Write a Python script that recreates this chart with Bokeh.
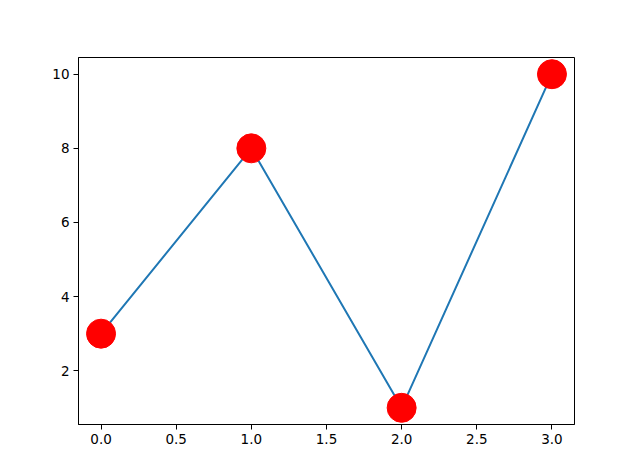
from bokeh.plotting import figure
from bokeh.models import Range1d, FixedTicker, CustomJSTickFormatter
from bokeh.embed import file_html
from bokeh.resources import INLINE

xs = [0, 1, 2, 3]
ys = [3, 8, 1, 10]
x_ticks = [0.0, 0.5, 1.0, 1.5, 2.0, 2.5, 3.0]
y_ticks = [2, 4, 6, 8, 10]

p = figure(width=634, height=466, output_backend="svg", toolbar_location=None,
           x_range=Range1d(-0.15, 3.15), y_range=Range1d(0.55, 10.45),
           min_border_left=78, min_border_right=60, min_border_top=57, min_border_bottom=42)
p.grid.visible = False
p.outline_line_color = "black"
p.outline_line_width = 1
p.background_fill_color = "white"
p.border_fill_color = "white"

p.line(xs, ys, line_color="#1f77b4", line_width=2)
p.scatter(xs, ys, size=29, fill_color="red", line_color="red", marker="circle")

p.xaxis.ticker = FixedTicker(ticks=x_ticks)
p.yaxis.ticker = FixedTicker(ticks=y_ticks)
p.xaxis.formatter = CustomJSTickFormatter(code="return tick.toFixed(1);")
p.yaxis.formatter = CustomJSTickFormatter(code="return tick.toFixed(0);")
for ax in (p.xaxis, p.yaxis):
    ax.major_label_text_font = "DejaVu Sans"
    ax.major_label_text_font_size = "13.5px"
    ax.major_label_text_color = "black"
    ax.axis_line_color = "black"
    ax.major_tick_line_color = "black"
    ax.major_tick_out = 5
    ax.major_tick_in = 0
    ax.minor_tick_line_color = None
    ax.major_label_standoff = 4

open("out.html", "w").write(file_html(p, INLINE))
